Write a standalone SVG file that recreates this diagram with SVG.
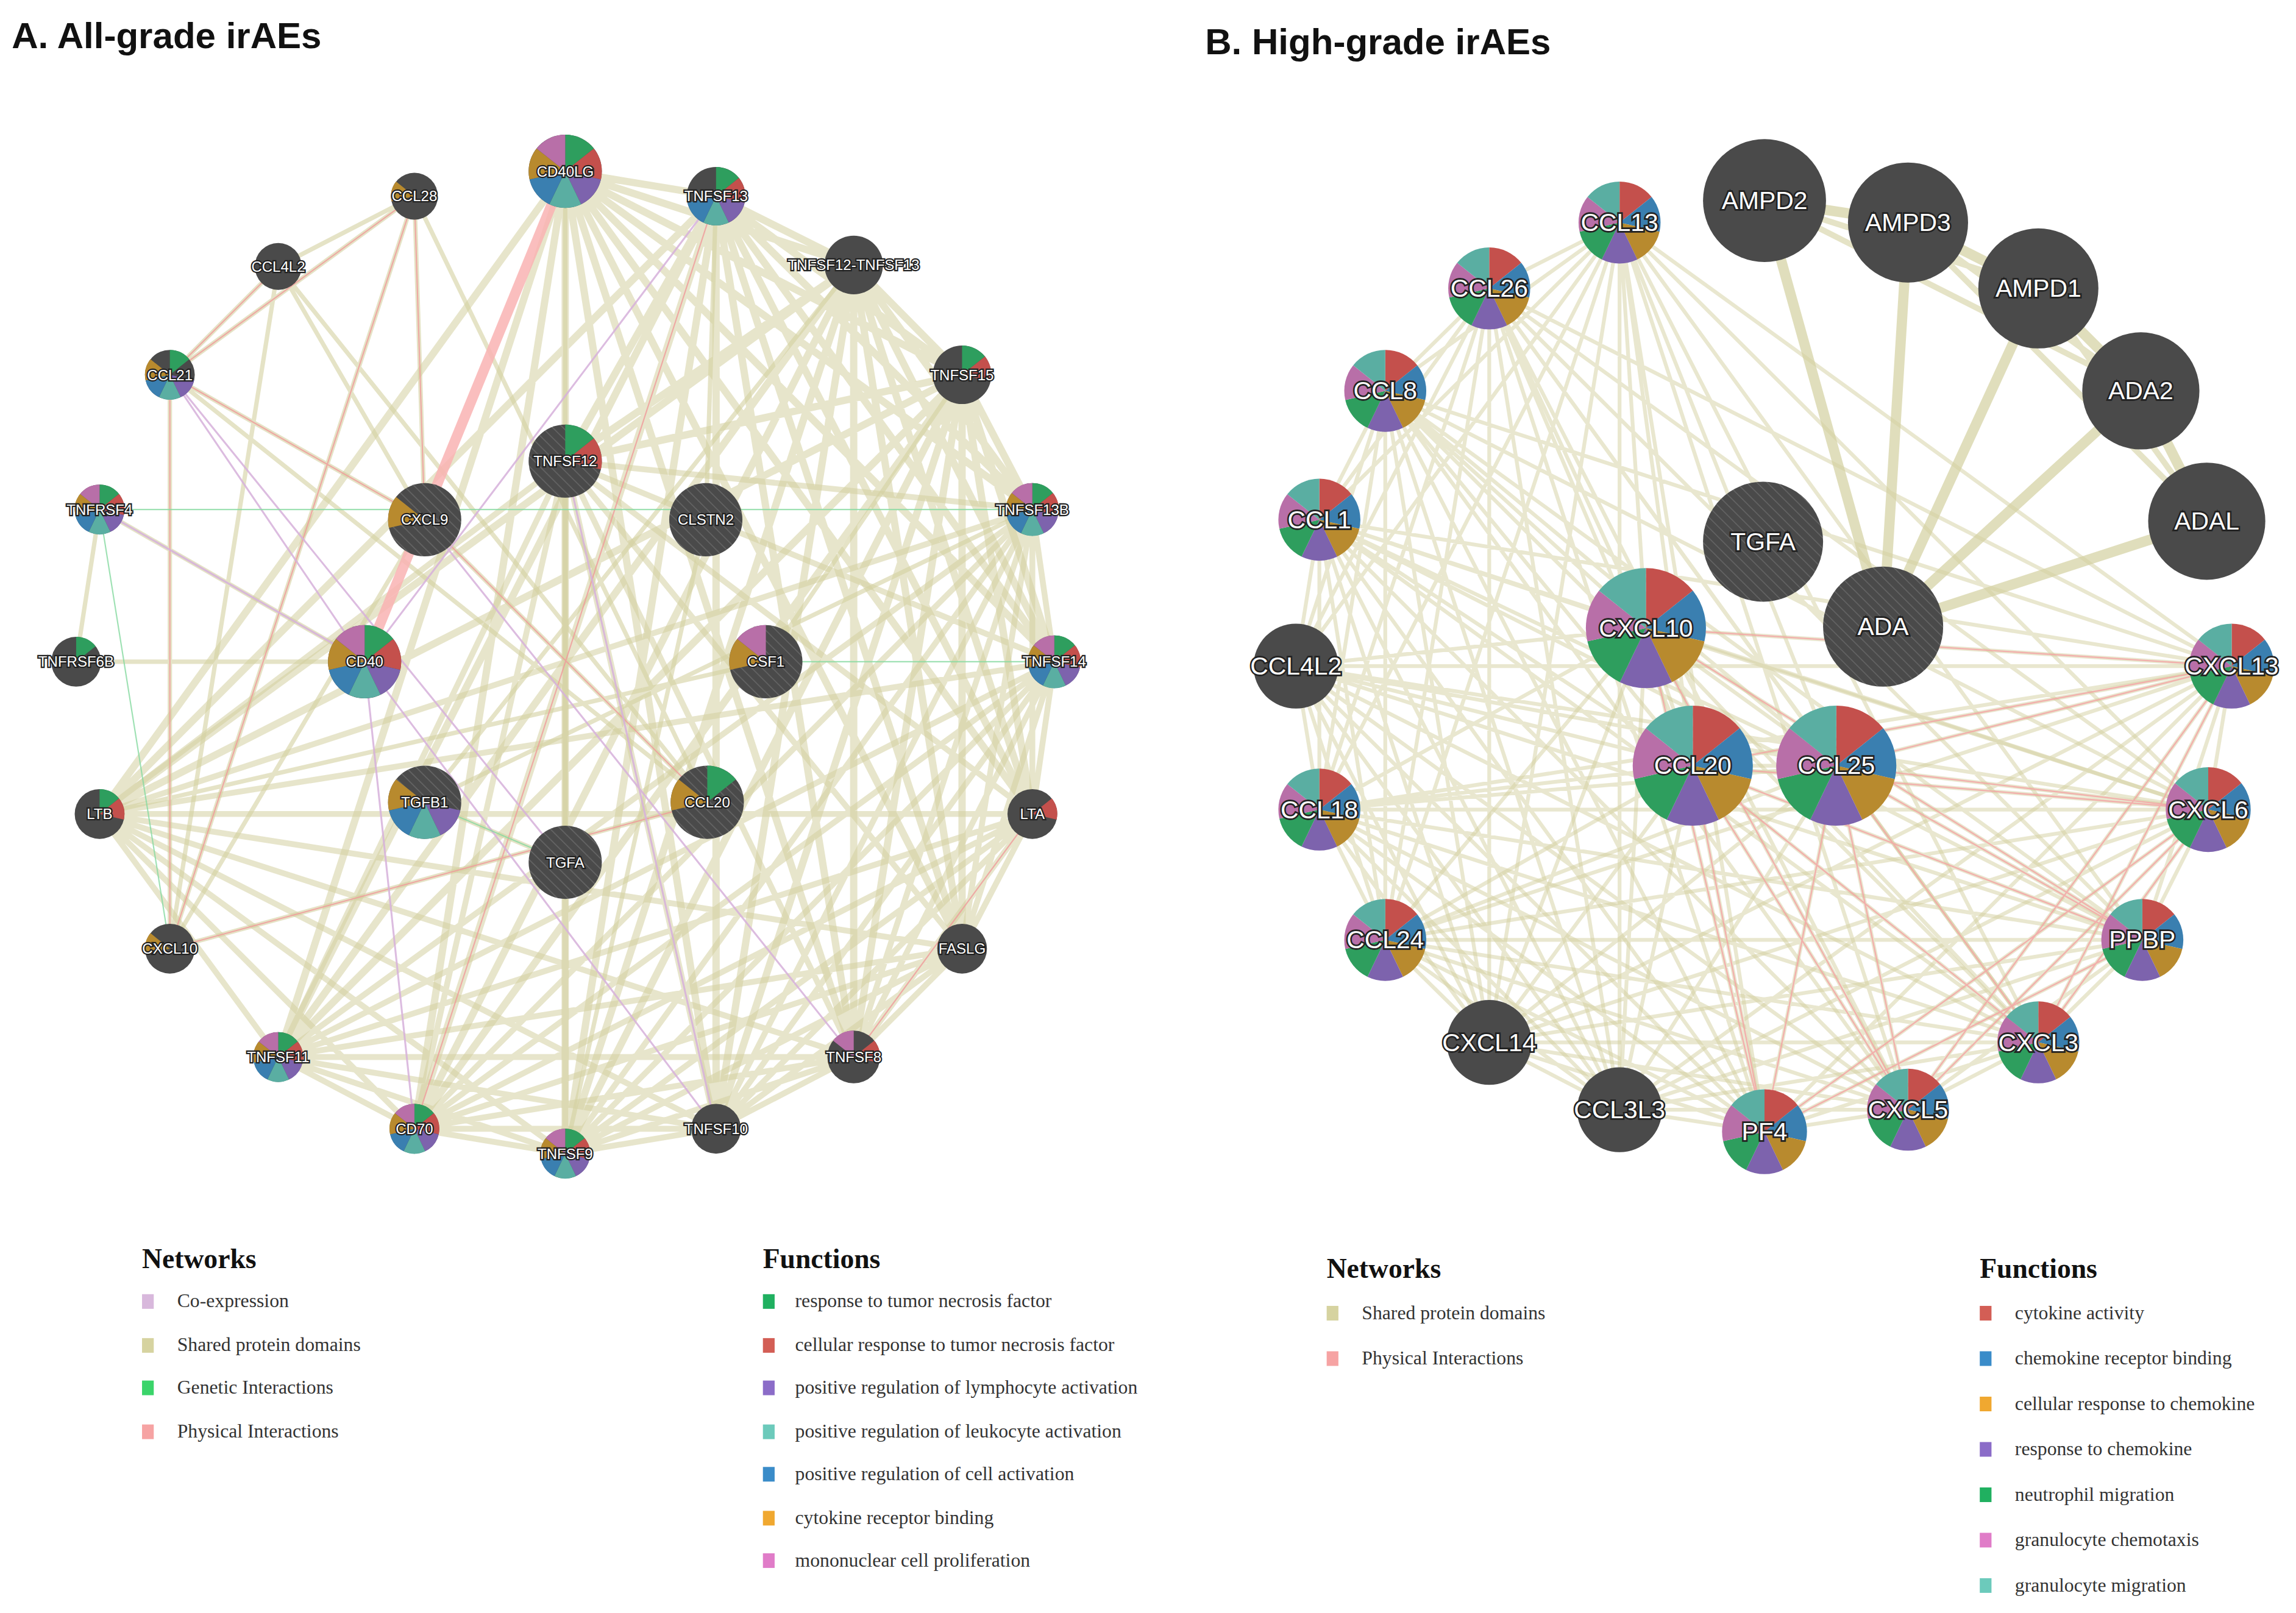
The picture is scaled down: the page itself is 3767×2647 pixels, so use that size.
<svg xmlns="http://www.w3.org/2000/svg" xmlns:xlink="http://www.w3.org/1999/xlink" width="3767" height="2647" viewBox="0 0 3767 2647">
<style>
.dk{fill:#4a4a4a}
.la{font-family:"Liberation Sans",Arial,sans-serif;font-size:10px;fill:#fff;stroke:#222;stroke-width:1.8;paint-order:stroke;text-anchor:middle;dominant-baseline:central}
.lb{font-family:"Liberation Sans",Arial,sans-serif;font-size:17px;fill:#fff;stroke:#222;stroke-width:2.2;paint-order:stroke;text-anchor:middle;dominant-baseline:central}
.ttl{font-family:"Liberation Sans",Arial,sans-serif;font-weight:bold;font-size:25px;fill:#111}
.lh{font-family:"Liberation Serif","Times New Roman",serif;font-weight:bold;font-size:19px;fill:#111}
.lt{font-family:"Liberation Serif","Times New Roman",serif;font-size:13.2px;fill:#333}
.sp{fill:none;stroke:#d3d0a0;stroke-linecap:round}
</style>
<defs>
<pattern id="ht" width="5" height="5" patternUnits="userSpaceOnUse" patternTransform="rotate(-45)"><rect width="5" height="5" fill="#4a4a4a"/><line x1="0" y1="0" x2="0" y2="5" stroke="#666" stroke-width="1.3"/></pattern>
<path id="w0" d="M0 0L0 -1A1 1 0 0 1 0.7818 -0.6235Z"/>
<path id="w1" d="M0 0L0.7818 -0.6235A1 1 0 0 1 0.9749 0.2225Z"/>
<path id="w2" d="M0 0L0.9749 0.2225A1 1 0 0 1 0.4339 0.9010Z"/>
<path id="w3" d="M0 0L0.4339 0.9010A1 1 0 0 1 -0.4339 0.9010Z"/>
<path id="w4" d="M0 0L-0.4339 0.9010A1 1 0 0 1 -0.9749 0.2225Z"/>
<path id="w5" d="M0 0L-0.9749 0.2225A1 1 0 0 1 -0.7818 -0.6235Z"/>
<path id="w6" d="M0 0L-0.7818 -0.6235A1 1 0 0 1 0 -1Z"/>
<use id="a0" href="#w0" fill="#2e9e5e"/>
<use id="a1" href="#w1" fill="#c4504c"/>
<use id="a2" href="#w2" fill="#7d63ad"/>
<use id="a3" href="#w3" fill="#5aaea2"/>
<use id="a4" href="#w4" fill="#3a7fb0"/>
<use id="a5" href="#w5" fill="#b88a2e"/>
<use id="a6" href="#w6" fill="#b86fa8"/>
<g id="pA"><use href="#a0"/><use href="#a1"/><use href="#a2"/><use href="#a3"/><use href="#a4"/><use href="#a5"/><use href="#a6"/></g>
<g id="pB"><use href="#w0" fill="#c4504c"/><use href="#w1" fill="#3a7fb0"/><use href="#w2" fill="#b88a2e"/><use href="#w3" fill="#7d63ad"/><use href="#w4" fill="#2e9e5e"/><use href="#w5" fill="#b86fa8"/><use href="#w6" fill="#5aaea2"/></g>
</defs>
<rect width="3767" height="2647" fill="#fff"/>
<g transform="scale(2.4025)">
<text x="8" y="33" class="ttl">A. All-grade irAEs</text>
<text x="823" y="37" class="ttl">B. High-grade irAEs</text>

<g id="connectors">
<path class="sp" stroke-width="5" opacity="0.55" d="M386 117L489 134M386 117L583 181M386 117L657 256M386 117L705 348M386 117L720 452M386 117L705 556M386 117L657 648M386 117L583 722M386 117L489 771M386 117L386 788M386 117L283 771M386 117L190 722M386 117L68 556M386 117L386 315M489 134L583 181M489 134L657 256M489 134L705 348M489 134L720 452M489 134L705 556M489 134L657 648M489 134L583 722M489 134L489 771M489 134L386 788M489 134L283 771M489 134L190 722M489 134L68 556M489 134L386 315M583 181L657 256M583 181L705 348M583 181L720 452M583 181L705 556M583 181L657 648M583 181L583 722M583 181L489 771M583 181L386 788M583 181L283 771M583 181L190 722M583 181L68 556M583 181L386 315M657 256L705 348M657 256L720 452M657 256L705 556M657 256L657 648M657 256L583 722M657 256L489 771M657 256L386 788M657 256L283 771M657 256L190 722M657 256L68 556M657 256L386 315"/>
<path class="sp" stroke-width="4" opacity="0.55" d="M705 348L720 452M705 348L705 556M705 348L657 648M705 348L583 722M705 348L489 771M705 348L386 788M705 348L283 771M705 348L190 722M705 348L68 556M705 348L386 315M720 452L705 556M720 452L657 648M720 452L583 722M720 452L489 771M720 452L386 788M720 452L283 771M720 452L190 722M720 452L68 556M720 452L386 315M705 556L657 648M705 556L583 722M705 556L489 771M705 556L386 788M705 556L283 771M705 556L190 722M705 556L68 556M705 556L386 315M657 648L583 722M657 648L489 771M657 648L386 788M657 648L283 771M657 648L190 722M657 648L68 556M657 648L386 315M583 722L489 771M583 722L386 788M583 722L283 771M583 722L190 722M583 722L68 556M583 722L386 315M489 771L386 788M489 771L283 771M489 771L190 722M489 771L68 556M489 771L386 315M386 788L283 771M386 788L190 722M386 788L68 556M386 788L386 315M283 771L190 722M283 771L68 556M283 771L386 315M190 722L68 556M190 722L386 315M68 556L386 315"/>
<path class="sp" stroke-width="3" opacity="0.6" d="M283 134L190 182M283 134L116 256M283 134L290 355M283 134L116 648M283 134L483 548M190 182L116 256M190 182L290 355M190 182L116 648M190 182L483 548M116 256L290 355M116 256L116 648M116 256L483 548M290 355L116 648M290 355L483 548M116 648L483 548M68 348L52 452M68 348L249 452M52 452L249 452M290 548L386 589M290 548L583 181M386 589L386 117M523 452L68 556M523 452L657 256M482 355L386 788M290 548L705 348M482 355L489 134"/>
<path fill="none" stroke="#f9b3b3" stroke-width="7" opacity="0.85" d="M386 117L249 452"/>
<path fill="none" stroke="#f09a9a" stroke-width="0.9" opacity="0.8" d="M116 256L290 355M116 256L116 648M283 134L116 648M283 134L290 355M290 355L483 548M116 648L483 548M583 722L705 556M489 134L283 771M190 182L116 256M283 134L116 256"/>
<path fill="none" stroke="#d6b0da" stroke-width="1.3" opacity="0.85" d="M116 256L249 452M68 348L249 452M489 134L249 452M290 355L583 722M249 452L489 771M116 256L386 589M249 452L283 771M386 315L489 771"/>
<path fill="none" stroke="#86d9a0" stroke-width="0.9" opacity="0.8" d="M68 348L705 348M68 348L116 648M290 548L386 589M720 452L523 452"/>

<path class="sp" stroke-width="2.6" opacity="0.5" d="M1106 152L1017 197M1106 152L946 267M1106 152L901 355M1106 152L885 455M1106 152L901 553M1106 152L946 642M1106 152L1017 712M1106 152L1106 758M1106 152L1205 773M1106 152L1303 758M1106 152L1392 712M1106 152L1463 642M1106 152L1508 553M1106 152L1524 455M1106 152L1124 429M1106 152L1156 523M1106 152L1254 523M1017 197L946 267M1017 197L901 355M1017 197L885 455M1017 197L901 553M1017 197L946 642M1017 197L1017 712M1017 197L1106 758M1017 197L1205 773M1017 197L1303 758M1017 197L1392 712M1017 197L1463 642M1017 197L1508 553M1017 197L1524 455M1017 197L1124 429M1017 197L1156 523M1017 197L1254 523M946 267L901 355M946 267L885 455M946 267L901 553M946 267L946 642M946 267L1017 712M946 267L1106 758M946 267L1205 773M946 267L1303 758M946 267L1392 712M946 267L1463 642M946 267L1508 553M946 267L1524 455M946 267L1124 429M946 267L1156 523M946 267L1254 523M901 355L885 455M901 355L901 553M901 355L946 642M901 355L1017 712M901 355L1106 758M901 355L1205 773M901 355L1303 758M901 355L1392 712M901 355L1463 642M901 355L1508 553M901 355L1524 455M901 355L1124 429M901 355L1156 523M901 355L1254 523M885 455L901 553M885 455L946 642M885 455L1017 712M885 455L1106 758M885 455L1205 773M885 455L1303 758M885 455L1392 712M885 455L1463 642M885 455L1508 553M885 455L1524 455M885 455L1124 429M885 455L1156 523M885 455L1254 523M901 553L946 642M901 553L1017 712M901 553L1106 758M901 553L1205 773M901 553L1303 758M901 553L1392 712M901 553L1463 642M901 553L1508 553M901 553L1524 455M901 553L1124 429M901 553L1156 523M901 553L1254 523"/>
<path class="sp" stroke-width="2.6" opacity="0.5" d="M946 642L1017 712M946 642L1106 758M946 642L1205 773M946 642L1303 758M946 642L1392 712M946 642L1463 642M946 642L1508 553M946 642L1524 455M946 642L1124 429M946 642L1156 523M946 642L1254 523M1017 712L1106 758M1017 712L1205 773M1017 712L1303 758M1017 712L1392 712M1017 712L1463 642M1017 712L1508 553M1017 712L1524 455M1017 712L1124 429M1017 712L1156 523M1017 712L1254 523M1106 758L1205 773M1106 758L1303 758M1106 758L1392 712M1106 758L1463 642M1106 758L1508 553M1106 758L1524 455M1106 758L1124 429M1106 758L1156 523M1106 758L1254 523M1205 773L1303 758M1205 773L1392 712M1205 773L1463 642M1205 773L1508 553M1205 773L1524 455M1205 773L1124 429M1205 773L1156 523M1205 773L1254 523M1303 758L1392 712M1303 758L1463 642M1303 758L1508 553M1303 758L1524 455M1303 758L1124 429M1303 758L1156 523M1303 758L1254 523M1392 712L1463 642M1392 712L1508 553M1392 712L1524 455M1392 712L1124 429M1392 712L1156 523M1392 712L1254 523M1463 642L1508 553M1463 642L1524 455M1463 642L1124 429M1463 642L1156 523M1463 642L1254 523M1508 553L1524 455M1508 553L1124 429M1508 553L1156 523M1508 553L1254 523M1524 455L1124 429M1524 455L1156 523M1524 455L1254 523M1124 429L1156 523M1124 429L1254 523M1156 523L1254 523"/>
<path fill="none" stroke="#f4a3a3" stroke-width="1" opacity="0.8" d="M1205 773L1156 523M1205 773L1254 523M1303 758L1156 523M1392 712L1156 523M1463 642L1156 523M1508 553L1156 523M1524 455L1156 523M1463 642L1254 523M1508 553L1254 523M1524 455L1254 523M1392 712L1254 523M1303 758L1254 523M1205 773L1124 429M1303 758L1124 429M1463 642L1124 429M1524 455L1124 429M1205 773L1463 642M1303 758L1508 553M1392 712L1524 455M1205 773L1508 553M1303 758L1524 455M1392 712L1508 553"/>
<path class="sp" stroke-width="7" opacity="0.7" d="M1205 137L1303 152M1303 152L1392 197M1392 197L1462 267M1462 267L1507 356M1286 428L1205 137M1286 428L1303 152M1286 428L1392 197M1286 428L1462 267M1286 428L1507 356"/>
<path class="sp" stroke-width="4" opacity="0.6" d="M1205 137L1392 197M1303 152L1462 267M1205 137L1462 267M1303 152L1507 356M1392 197L1507 356"/>
</g>

<!-- Panel A nodes -->
<g id="A-CD40LG"><circle cx="386" cy="117" r="25" class="dk"/><g transform="translate(386 117) scale(25)"><use href="#pA"/></g><text x="386" y="117" class="la">CD40LG</text></g>
<g id="A-CCL28"><circle cx="283" cy="134" r="16" class="dk"/><g transform="translate(283 134) scale(16)"><use href="#a5"/></g><text x="283" y="134" class="la">CCL28</text></g>
<g id="A-TNFSF13"><circle cx="489" cy="134" r="20" class="dk"/><g transform="translate(489 134) scale(20)"><use href="#a0"/><use href="#a1"/><use href="#a2"/><use href="#a3"/><use href="#a4"/></g><text x="489" y="134" class="la">TNFSF13</text></g>
<g id="A-CCL4L2"><circle cx="190" cy="182" r="16" class="dk"/><text x="190" y="182" class="la">CCL4L2</text></g>
<g id="A-TNFSF12-TNFSF13"><circle cx="583" cy="181" r="20" class="dk"/><text x="583" y="181" class="la">TNFSF12-TNFSF13</text></g>
<g id="A-CCL21"><circle cx="116" cy="256" r="17" class="dk"/><g transform="translate(116 256) scale(17)"><use href="#a0"/><use href="#a2"/><use href="#a3"/><use href="#a4"/><use href="#a5"/></g><text x="116" y="256" class="la">CCL21</text></g>
<g id="A-TNFSF15"><circle cx="657" cy="256" r="20" class="dk"/><g transform="translate(657 256) scale(20)"><use href="#a0"/><use href="#a1"/></g><text x="657" y="256" class="la">TNFSF15</text></g>
<g id="A-TNFSF12"><circle cx="386" cy="315" r="25" fill="url(#ht)"/><g transform="translate(386 315) scale(25)"><use href="#a0"/><use href="#a1"/></g><text x="386" y="315" class="la">TNFSF12</text></g>
<g id="A-CXCL9"><circle cx="290" cy="355" r="25" fill="url(#ht)"/><g transform="translate(290 355) scale(25)"><use href="#a5"/></g><text x="290" y="355" class="la">CXCL9</text></g>
<g id="A-CLSTN2"><circle cx="482" cy="355" r="25" fill="url(#ht)"/><text x="482" y="355" class="la">CLSTN2</text></g>
<g id="A-TNFRSF4"><circle cx="68" cy="348" r="17" class="dk"/><g transform="translate(68 348) scale(17)"><use href="#pA"/></g><text x="68" y="348" class="la">TNFRSF4</text></g>
<g id="A-TNFSF13B"><circle cx="705" cy="348" r="18" class="dk"/><g transform="translate(705 348) scale(18)"><use href="#pA"/></g><text x="705" y="348" class="la">TNFSF13B</text></g>
<g id="A-TNFRSF6B"><circle cx="52" cy="452" r="17" class="dk"/><g transform="translate(52 452) scale(17)"><use href="#a0"/></g><text x="52" y="452" class="la">TNFRSF6B</text></g>
<g id="A-CD40"><circle cx="249" cy="452" r="25" class="dk"/><g transform="translate(249 452) scale(25)"><use href="#pA"/></g><text x="249" y="452" class="la">CD40</text></g>
<g id="A-CSF1"><circle cx="523" cy="452" r="25" fill="url(#ht)"/><g transform="translate(523 452) scale(25)"><use href="#a5"/><use href="#a6"/></g><text x="523" y="452" class="la">CSF1</text></g>
<g id="A-TNFSF14"><circle cx="720" cy="452" r="18" class="dk"/><g transform="translate(720 452) scale(18)"><use href="#pA"/></g><text x="720" y="452" class="la">TNFSF14</text></g>
<g id="A-LTB"><circle cx="68" cy="556" r="17" class="dk"/><g transform="translate(68 556) scale(17)"><use href="#a0"/><use href="#a1"/></g><text x="68" y="556" class="la">LTB</text></g>
<g id="A-TGFB1"><circle cx="290" cy="548" r="25" fill="url(#ht)"/><g transform="translate(290 548) scale(25)"><use href="#a2"/><use href="#a3"/><use href="#a4"/><use href="#a5"/></g><text x="290" y="548" class="la">TGFB1</text></g>
<g id="A-CCL20"><circle cx="483" cy="548" r="25" fill="url(#ht)"/><g transform="translate(483 548) scale(25)"><use href="#a0"/><use href="#a5"/></g><text x="483" y="548" class="la">CCL20</text></g>
<g id="A-LTA"><circle cx="705" cy="556" r="17" class="dk"/><g transform="translate(705 556) scale(17)"><use href="#a1"/></g><text x="705" y="556" class="la">LTA</text></g>
<g id="A-TGFA"><circle cx="386" cy="589" r="25" fill="url(#ht)"/><text x="386" y="589" class="la">TGFA</text></g>
<g id="A-CXCL10"><circle cx="116" cy="648" r="17" class="dk"/><g transform="translate(116 648) scale(17)"><use href="#a5"/></g><text x="116" y="648" class="la">CXCL10</text></g>
<g id="A-FASLG"><circle cx="657" cy="648" r="17" class="dk"/><text x="657" y="648" class="la">FASLG</text></g>
<g id="A-TNFSF11"><circle cx="190" cy="722" r="17" class="dk"/><g transform="translate(190 722) scale(17)"><use href="#pA"/></g><text x="190" y="722" class="la">TNFSF11</text></g>
<g id="A-TNFSF8"><circle cx="583" cy="722" r="18" class="dk"/><g transform="translate(583 722) scale(18)"><use href="#a1"/><use href="#a6"/></g><text x="583" y="722" class="la">TNFSF8</text></g>
<g id="A-CD70"><circle cx="283" cy="771" r="17" class="dk"/><g transform="translate(283 771) scale(17)"><use href="#pA"/></g><text x="283" y="771" class="la">CD70</text></g>
<g id="A-TNFSF9"><circle cx="386" cy="788" r="17" class="dk"/><g transform="translate(386 788) scale(17)"><use href="#pA"/></g><text x="386" y="788" class="la">TNFSF9</text></g>
<g id="A-TNFSF10"><circle cx="489" cy="771" r="17" class="dk"/><text x="489" y="771" class="la">TNFSF10</text></g>

<!-- Panel B nodes -->
<g id="B-CCL13"><g transform="translate(1106 152) scale(28)"><use href="#pB"/></g><text x="1106" y="152" class="lb">CCL13</text></g>
<g id="B-AMPD2"><circle cx="1205" cy="137" r="42" class="dk"/><text x="1205" y="137" class="lb">AMPD2</text></g>
<g id="B-AMPD3"><circle cx="1303" cy="152" r="41" class="dk"/><text x="1303" y="152" class="lb">AMPD3</text></g>
<g id="B-AMPD1"><circle cx="1392" cy="197" r="41" class="dk"/><text x="1392" y="197" class="lb">AMPD1</text></g>
<g id="B-CCL26"><g transform="translate(1017 197) scale(28)"><use href="#pB"/></g><text x="1017" y="197" class="lb">CCL26</text></g>
<g id="B-CCL8"><g transform="translate(946 267) scale(28)"><use href="#pB"/></g><text x="946" y="267" class="lb">CCL8</text></g>
<g id="B-ADA2"><circle cx="1462" cy="267" r="40" class="dk"/><text x="1462" y="267" class="lb">ADA2</text></g>
<g id="B-CCL1"><g transform="translate(901 355) scale(28)"><use href="#pB"/></g><text x="901" y="355" class="lb">CCL1</text></g>
<g id="B-ADAL"><circle cx="1507" cy="356" r="40" class="dk"/><text x="1507" y="356" class="lb">ADAL</text></g>
<g id="B-TGFA"><circle cx="1204" cy="370" r="41" fill="url(#ht)"/><text x="1204" y="370" class="lb">TGFA</text></g>
<g id="B-ADA"><circle cx="1286" cy="428" r="41" fill="url(#ht)"/><text x="1286" y="428" class="lb">ADA</text></g>
<g id="B-CXCL10"><g transform="translate(1124 429) scale(41)"><use href="#pB"/></g><text x="1124" y="429" class="lb">CXCL10</text></g>
<g id="B-CCL4L2"><circle cx="885" cy="455" r="29" class="dk"/><text x="885" y="455" class="lb">CCL4L2</text></g>
<g id="B-CXCL13"><g transform="translate(1524 455) scale(29)"><use href="#pB"/></g><text x="1524" y="455" class="lb">CXCL13</text></g>
<g id="B-CCL20"><g transform="translate(1156 523) scale(41)"><use href="#pB"/></g><text x="1156" y="523" class="lb">CCL20</text></g>
<g id="B-CCL25"><g transform="translate(1254 523) scale(41)"><use href="#pB"/></g><text x="1254" y="523" class="lb">CCL25</text></g>
<g id="B-CCL18"><g transform="translate(901 553) scale(28)"><use href="#pB"/></g><text x="901" y="553" class="lb">CCL18</text></g>
<g id="B-CXCL6"><g transform="translate(1508 553) scale(29)"><use href="#pB"/></g><text x="1508" y="553" class="lb">CXCL6</text></g>
<g id="B-CCL24"><g transform="translate(946 642) scale(28)"><use href="#pB"/></g><text x="946" y="642" class="lb">CCL24</text></g>
<g id="B-PPBP"><g transform="translate(1463 642) scale(28)"><use href="#pB"/></g><text x="1463" y="642" class="lb">PPBP</text></g>
<g id="B-CXCL14"><circle cx="1017" cy="712" r="29" class="dk"/><text x="1017" y="712" class="lb">CXCL14</text></g>
<g id="B-CXCL3"><g transform="translate(1392 712) scale(28)"><use href="#pB"/></g><text x="1392" y="712" class="lb">CXCL3</text></g>
<g id="B-CCL3L3"><circle cx="1106" cy="758" r="29" class="dk"/><text x="1106" y="758" class="lb">CCL3L3</text></g>
<g id="B-CXCL5"><g transform="translate(1303 758) scale(28)"><use href="#pB"/></g><text x="1303" y="758" class="lb">CXCL5</text></g>
<g id="B-PF4"><g transform="translate(1205 773) scale(29)"><use href="#pB"/></g><text x="1205" y="773" class="lb">PF4</text></g>

<!-- Legends -->
<g id="legendA-networks">
<text x="97" y="866" class="lh">Networks</text>
<rect x="97" y="884" width="8" height="10" fill="#d8b8dc"/><text x="121" y="893" class="lt">Co-expression</text>
<rect x="97" y="914" width="8" height="10" fill="#d6d3a0"/><text x="121" y="923" class="lt">Shared protein domains</text>
<rect x="97" y="943" width="8" height="10" fill="#3ad46a"/><text x="121" y="952" class="lt">Genetic Interactions</text>
<rect x="97" y="973" width="8" height="10" fill="#f6a3a3"/><text x="121" y="982" class="lt">Physical Interactions</text>
</g>
<g id="legendA-functions">
<text x="521" y="866" class="lh">Functions</text>
<rect x="521" y="884" width="8" height="10" fill="#20b060"/><text x="543" y="893" class="lt">response to tumor necrosis factor</text>
<rect x="521" y="914" width="8" height="10" fill="#d35e55"/><text x="543" y="923" class="lt">cellular response to tumor necrosis factor</text>
<rect x="521" y="943" width="8" height="10" fill="#8b6cc8"/><text x="543" y="952" class="lt">positive regulation of lymphocyte activation</text>
<rect x="521" y="973" width="8" height="10" fill="#6ccabb"/><text x="543" y="982" class="lt">positive regulation of leukocyte activation</text>
<rect x="521" y="1002" width="8" height="10" fill="#3a8cc9"/><text x="543" y="1011" class="lt">positive regulation of cell activation</text>
<rect x="521" y="1032" width="8" height="10" fill="#f0a830"/><text x="543" y="1041" class="lt">cytokine receptor binding</text>
<rect x="521" y="1061" width="8" height="10" fill="#e07cc8"/><text x="543" y="1070" class="lt">mononuclear cell proliferation</text>
</g>
<g id="legendB-networks">
<text x="906" y="873" class="lh">Networks</text>
<rect x="906" y="892" width="8" height="10" fill="#d6d3a0"/><text x="930" y="901" class="lt">Shared protein domains</text>
<rect x="906" y="923" width="8" height="10" fill="#f6a3a3"/><text x="930" y="932" class="lt">Physical Interactions</text>
</g>
<g id="legendB-functions">
<text x="1352" y="873" class="lh">Functions</text>
<rect x="1352" y="892" width="8" height="10" fill="#d35e55"/><text x="1376" y="901" class="lt">cytokine activity</text>
<rect x="1352" y="923" width="8" height="10" fill="#3a8cc9"/><text x="1376" y="932" class="lt">chemokine receptor binding</text>
<rect x="1352" y="954" width="8" height="10" fill="#f0a830"/><text x="1376" y="963" class="lt">cellular response to chemokine</text>
<rect x="1352" y="985" width="8" height="10" fill="#8b6cc8"/><text x="1376" y="994" class="lt">response to chemokine</text>
<rect x="1352" y="1016" width="8" height="10" fill="#20b060"/><text x="1376" y="1025" class="lt">neutrophil migration</text>
<rect x="1352" y="1047" width="8" height="10" fill="#e07cc8"/><text x="1376" y="1056" class="lt">granulocyte chemotaxis</text>
<rect x="1352" y="1078" width="8" height="10" fill="#6ccabb"/><text x="1376" y="1087" class="lt">granulocyte migration</text>
</g>
</g>
</svg>
